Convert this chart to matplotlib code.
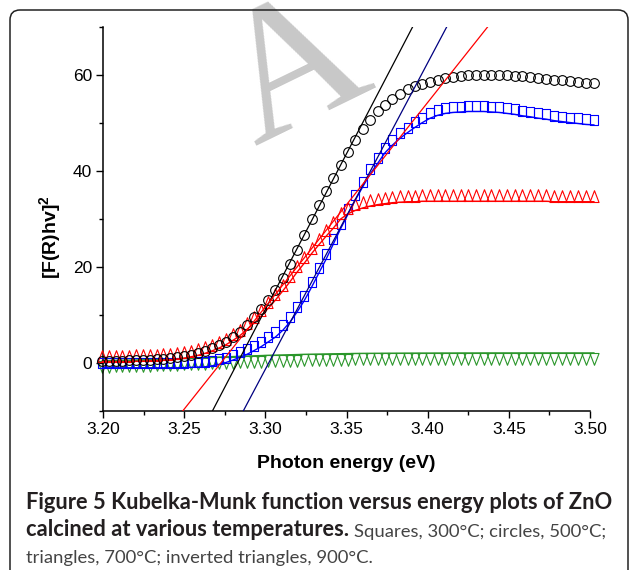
import matplotlib
matplotlib.use("Agg")
import matplotlib.pyplot as plt
from matplotlib.patches import FancyBboxPatch
from matplotlib.transforms import IdentityTransform
from matplotlib.ticker import MultipleLocator
from matplotlib.path import Path

plt.rcParams["font.family"] = ["Liberation Sans", "DejaVu Sans"]
plt.rcParams["mathtext.fontset"] = "custom"
plt.rcParams["mathtext.rm"] = "Liberation Sans"
plt.rcParams["mathtext.bf"] = "Liberation Sans:bold"

# =========================
# Data
# =========================
energy = [
    3.1996, 3.2037, 3.2079, 3.2120, 3.2162, 3.2204, 3.2246, 3.2288, 3.2330, 3.2372,
    3.2414, 3.2457, 3.2499, 3.2542, 3.2585, 3.2627, 3.2670, 3.2713, 3.2757, 3.2800,
    3.2843, 3.2887, 3.2931, 3.2974, 3.3018, 3.3062, 3.3107, 3.3151, 3.3195, 3.3240,
    3.3285, 3.3329, 3.3374, 3.3419, 3.3464, 3.3509, 3.3555, 3.3600, 3.3646, 3.3692,
    3.3737, 3.3783, 3.3829, 3.3876, 3.3922, 3.3968, 3.4015, 3.4062, 3.4109, 3.4156,
    3.4203, 3.4250, 3.4297, 3.4345, 3.4392, 3.4440, 3.4488, 3.4536, 3.4584, 3.4632,
    3.4681, 3.4730, 3.4778, 3.4827, 3.4876, 3.4925, 3.4975, 3.5024,
]

# circles, 500 C
km_500 = [
    0.5, 0.5, 0.5, 0.5, 0.6, 0.6, 0.7, 0.7, 0.8, 0.9,
    1.0, 1.2, 1.4, 1.7, 2.0, 2.5, 3.1, 3.7, 4.4, 5.4,
    6.5, 8.0, 9.6, 11.3, 13.2, 15.3, 17.8, 20.6, 23.6, 26.7,
    29.9, 32.9, 35.8, 38.6, 41.3, 43.9, 46.4, 48.7, 50.7, 52.4,
    53.8, 55.1, 56.1, 57.0, 57.7, 58.2, 58.6, 59.0, 59.3, 59.6,
    59.8, 59.9, 60.0, 60.0, 60.0, 60.0, 59.9, 59.8, 59.7, 59.5,
    59.4, 59.2, 59.0, 58.9, 58.7, 58.6, 58.4, 58.3,
]

# squares, 300 C
km_300 = [
    -1.0, -1.0, -1.0, -1.0, -1.0, -1.0, -1.0, -1.0, -1.0, -1.0,
    -1.0, -1.0, -0.95, -0.9, -0.85, -0.8, -0.6, -0.3, 0.1, 0.6,
    1.2, 1.8, 2.6, 3.4, 4.4, 5.4, 6.8, 8.5, 10.6, 13.0,
    15.8, 18.7, 21.6, 24.8, 28.0, 31.0, 34.0, 36.7, 39.4, 41.6,
    43.8, 45.4, 46.8, 48.0, 49.1, 50.1, 51.0, 51.6, 52.0, 52.2,
    52.3, 52.4, 52.4, 52.4, 52.3, 52.2, 52.0, 51.8, 51.5, 51.3,
    51.0, 50.8, 50.5, 50.3, 50.1, 49.9, 49.7, 49.6,
]

# triangles, 700 C
km_700 = [
    0.3, 0.3, 0.3, 0.3, 0.3, 0.35, 0.4, 0.45, 0.5, 0.6,
    0.7, 0.85, 1.0, 1.3, 1.6, 2.0, 2.5, 3.1, 3.8, 4.7,
    5.7, 7.0, 8.3, 9.8, 11.4, 13.1, 15.0, 16.9, 18.9, 20.8,
    22.8, 24.6, 26.4, 28.1, 30.0, 31.1, 31.8, 32.3, 32.7, 33.0,
    33.2, 33.4, 33.5, 33.6, 33.6, 33.7, 33.7, 33.7, 33.7, 33.7,
    33.7, 33.7, 33.7, 33.7, 33.7, 33.7, 33.7, 33.7, 33.7, 33.7,
    33.7, 33.7, 33.6, 33.6, 33.6, 33.6, 33.6, 33.6,
]

# inverted triangles, 900 C
km_900 = [
    0.50, 0.52, 0.55, 0.58, 0.60, 0.63, 0.67, 0.71, 0.75, 0.80,
    0.85, 0.90, 0.95, 1.00, 1.05, 1.10, 1.16, 1.22, 1.28, 1.34,
    1.40, 1.45, 1.50, 1.55, 1.60, 1.64, 1.68, 1.72, 1.76, 1.80,
    1.83, 1.86, 1.89, 1.92, 1.94, 1.96, 1.98, 2.00, 2.01, 2.02,
    2.03, 2.04, 2.05, 2.06, 2.06, 2.07, 2.07, 2.08, 2.08, 2.08,
    2.09, 2.09, 2.09, 2.10, 2.10, 2.10, 2.10, 2.10, 2.10, 2.10,
    2.10, 2.10, 2.10, 2.10, 2.10, 2.10, 2.10, 2.10,
]

# linear fits (end points at the axis limits)
fit_500_x = [3.2674, 3.3907]
fit_300_x = [3.2864, 3.4117]
fit_700_x = [3.2491, 3.4369]
fit_y = [-10, 70]

x_ticks = [3.20, 3.25, 3.30, 3.35, 3.40, 3.45, 3.50]
y_ticks = [0, 20, 40, 60]

# markers sitting on / hanging from the line (as in the original)
SQUARE = Path([(-1, 0), (1, 0), (1, 2.36), (-1, 2.36), (-1, 0)], closed=True)
TRI_UP = Path([(-1, 0), (1, 0), (0, 2.6), (-1, 0)], closed=True)
TRI_DOWN = Path([(-1, 0), (1, 0), (0, -2.6), (-1, 0)], closed=True)

W, H = 629, 570
fig = plt.figure(figsize=(W / 100, H / 100), dpi=100)
ax = fig.add_axes([103 / W, 1 - 411 / H, 487 / W, 384 / H])

# =========================
# Series
# =========================
ax.plot(energy, km_900, color="#2a962a", lw=1.0, marker=TRI_DOWN, ms=17,
        mfc="none", mec="#2a962a", mew=0.8, clip_on=False, zorder=2)
ax.plot(energy, km_300, color="#0000ff", lw=1.0, marker=SQUARE, ms=14.6,
        mfc="none", mec="#0000ff", mew=0.8, clip_on=False, zorder=3)
ax.plot(energy, km_700, color="#ff0000", lw=1.0, marker=TRI_UP, ms=17,
        mfc="none", mec="#ff0000", mew=0.8, clip_on=False, zorder=4)
ax.plot(energy, km_500, ls="none", marker="o", ms=7,
        mfc="none", mec="black", mew=0.8, clip_on=False, zorder=5)

ax.plot(fit_500_x, fit_y, color="black", lw=0.9, zorder=6)
ax.plot(fit_300_x, fit_y, color="#000080", lw=0.9, zorder=6)
ax.plot(fit_700_x, fit_y, color="#ff0000", lw=0.9, zorder=6)

# =========================
# Axes
# =========================
ax.set_xlim(3.20, 3.50)
ax.set_ylim(-10, 70)
ax.set_xticks(x_ticks)
ax.set_xticklabels([f"{v:.2f}" for v in x_ticks])
ax.set_yticks(y_ticks)
ax.xaxis.set_minor_locator(MultipleLocator(0.025))
ax.yaxis.set_minor_locator(MultipleLocator(10))
for s in ("top", "right"):
    ax.spines[s].set_visible(False)
for s in ("left", "bottom"):
    ax.spines[s].set_linewidth(1.1)
ax.tick_params(which="major", direction="out", length=5, width=1.0,
               labelsize=12.5, pad=3)
ax.tick_params(which="minor", direction="out", length=3, width=1.0)

fig.text(346 / W, 1 - 464 / H, "Photon energy (eV)", fontsize=14,
         fontweight="bold", ha="center", va="center")
fig.text(51 / W, 1 - 237 / H, r"[F(R)hv]$^{\mathbf{2}}$", fontsize=14,
         fontweight="bold", ha="center", va="center", rotation=90)

# watermark
fig.text(295 / W, 1 - 75 / H, "A", fontsize=136, family="Liberation Serif",
         color="#c8c8c8", rotation=26, ha="center", va="center",
         rotation_mode="anchor", zorder=0)

# frame round the figure
frame = FancyBboxPatch((10, -30), 618, 590, boxstyle="round,pad=0,rounding_size=10",
                       transform=IdentityTransform(), fill=False,
                       edgecolor="#222222", lw=1.1)
fig.add_artist(frame)

# =========================
# Caption (sizes fitted to the widths in the original)
# =========================
cap_font = ["Lato", "DejaVu Sans"]


def fitted_text(x, y, s, target, **kw):
    t = fig.text(x / W, 1 - y / H, s, fontsize=12, va="baseline", family=cap_font, **kw)
    fig.canvas.draw()
    t.set_fontsize(12 * target / t.get_window_extent().width)
    return t


line1 = fitted_text(26, 509, "Figure 5 Kubelka-Munk function versus energy plots of ZnO", 582,
                    fontweight="bold", color="#231f20")
line3 = fitted_text(26, 563, "triangles, 700°C; inverted triangles, 900°C.", 319,
                    color="#444444")
fs_b = line1.get_fontsize()
fs_r = line3.get_fontsize() * 1.08
line3.set_fontsize(fs_r)

line2 = fig.text(26 / W, 1 - 536.5 / H, "calcined at various temperatures.",
                 fontsize=fs_b, fontweight="bold", family=cap_font, color="#231f20", va="baseline")
fig.canvas.draw()
x1 = line2.get_window_extent().x1
fig.text((x1 + 5) / W, 1 - 536.5 / H, "Squares, 300°C; circles, 500°C;",
         fontsize=fs_r, family=cap_font, color="#444444", va="baseline")

fig.savefig("out.png", dpi=100)
